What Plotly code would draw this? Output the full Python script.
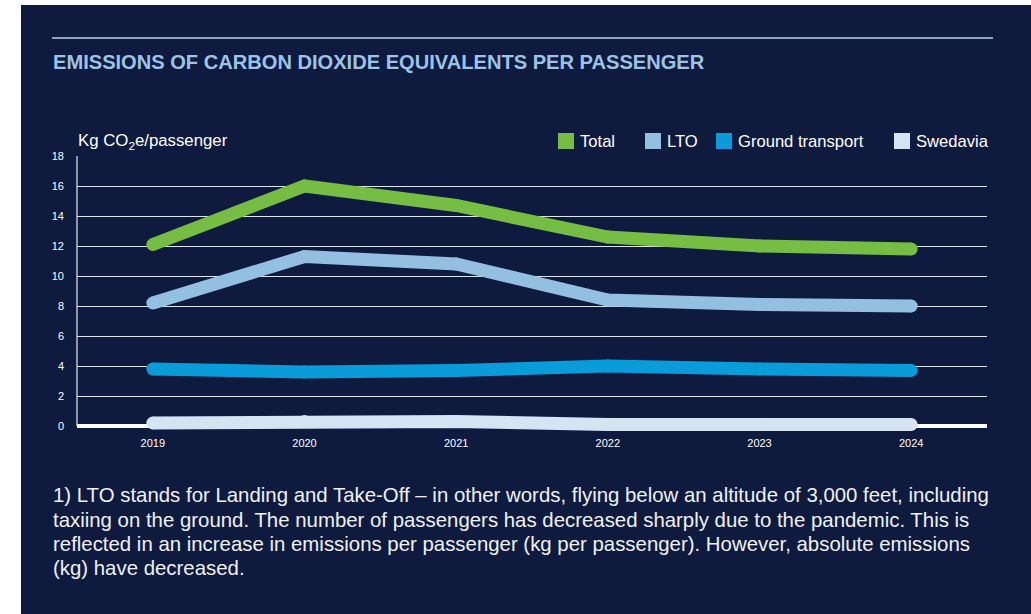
import plotly.graph_objects as go

years = ["2019", "2020", "2021", "2022", "2023", "2024"]
total = [12.1, 16.0, 14.7, 12.6, 12.0, 11.8]
lto = [8.2, 11.3, 10.8, 8.4, 8.1, 8.0]
ground = [3.8, 3.6, 3.7, 4.0, 3.8, 3.7]
swedavia = [0.2, 0.3, 0.3, 0.1, 0.1, 0.1]

series_names = ["Total", "LTO", "Ground transport", "Swedavia"]
series_values = [total, lto, ground, swedavia]
colors = ["#76bd43", "#93bfe1", "#0a9cd8", "#d5e3f3"]

y_ticks = [0, 2, 4, 6, 8, 10, 12, 14, 16, 18]

title_text = "EMISSIONS OF CARBON DIOXIDE EQUIVALENTS PER PASSENGER"
axis_title = "Kg CO<sub>2</sub>e/passenger"
footnote_lines = [
    "1) LTO stands for Landing and Take-Off \u2013 in other words, flying below an altitude of 3,000 feet, including",
    "taxiing on the ground. The number of passengers has decreased sharply due to the pandemic. This is",
    "reflected in an increase in emissions per passenger (kg per passenger). However, absolute emissions",
    "(kg) have decreased.",
]

BG = "#0f1a3f"
FONT = "Liberation Sans, Arial"
W, H = 1031, 614
ML, MR, MT, MB = 77, 44, 156, 179
PW = W - ML - MR
PH = H - MT - MB

def px(x):
    return (x - ML) / PW

def py(y):
    return (H - MB - y) / PH

fig = go.Figure()
for name, vals, col in zip(series_names, series_values, colors):
    fig.add_trace(go.Scatter(
        x=years, y=vals, name=name, mode="lines+markers",
        line=dict(color=col, width=13),
        marker=dict(color=col, size=13, line=dict(width=0)),
        showlegend=False, hoverinfo="x+y+name",
    ))

shapes = [
    dict(type="rect", xref="paper", yref="paper", x0=px(0), x1=px(21), y0=py(0), y1=py(H),
         fillcolor="white", line=dict(width=0), layer="below"),
    dict(type="rect", xref="paper", yref="paper", x0=px(0), x1=px(W), y0=py(-5), y1=py(5),
         fillcolor="white", line=dict(width=0), layer="below"),
    dict(type="line", xref="paper", yref="paper", x0=px(52), x1=px(993), y0=py(38), y1=py(38),
         line=dict(color="#8aa3c6", width=2)),
    dict(type="line", xref="paper", yref="y", x0=0, x1=0, y0=0, y1=18,
         line=dict(color="#e6e9ef", width=1.2)),
]

annotations = [
    dict(text="<b>" + title_text + "</b>", xref="paper", yref="paper", x=px(51), y=py(62),
         xanchor="left", yanchor="middle", showarrow=False,
         font=dict(family=FONT, size=20.1, color="#9cc4e6")),
    dict(text=axis_title, xref="paper", yref="paper", x=px(76), y=py(141),
         xanchor="left", yanchor="middle", showarrow=False,
         font=dict(family=FONT, size=16.8, color="white")),
]

leg_sq_x = [558, 645, 716, 894]
for name, col, sx in zip(series_names, colors, leg_sq_x):
    shapes.append(dict(type="rect", xref="paper", yref="paper",
                       x0=px(sx), x1=px(sx + 16), y0=py(149), y1=py(133),
                       fillcolor=col, line=dict(width=0)))
    annotations.append(dict(text=name, xref="paper", yref="paper", x=px(sx + 20), y=py(141.5),
                            xanchor="left", yanchor="middle", showarrow=False,
                            font=dict(family=FONT, size=16.6, color="white")))

line_y = [495, 520, 544, 568]
for txt, yy in zip(footnote_lines, line_y):
    annotations.append(dict(text=txt, xref="paper", yref="paper", x=px(51), y=py(yy),
                            xanchor="left", yanchor="middle", showarrow=False,
                            font=dict(family=FONT, size=20.4, color="#eef1f6")))

fig.update_layout(
    width=W, height=H,
    margin=dict(l=ML, r=MR, t=MT, b=MB, pad=0),
    paper_bgcolor=BG, plot_bgcolor=BG,
    shapes=shapes, annotations=annotations,
    font=dict(family=FONT, color="white"),
    xaxis=dict(type="category", range=[-0.5, 5.5], showgrid=False, zeroline=False,
               showline=False, ticks="", tickfont=dict(size=11, color="white"),
               fixedrange=True),
    yaxis=dict(range=[-0.6, 18], tickvals=y_ticks, showgrid=True, gridcolor="#dfe3ea",
               gridwidth=1, zeroline=True, zerolinecolor="white", zerolinewidth=4,
               showline=False, ticks="", tickfont=dict(size=11, color="white"),
               ticklabelstandoff=12, fixedrange=True),
    showlegend=False,
)

fig.write_html("out.html", config={"displayModeBar": False},
               post_script="document.body.style.margin='0px';document.body.style.overflow='hidden';")
